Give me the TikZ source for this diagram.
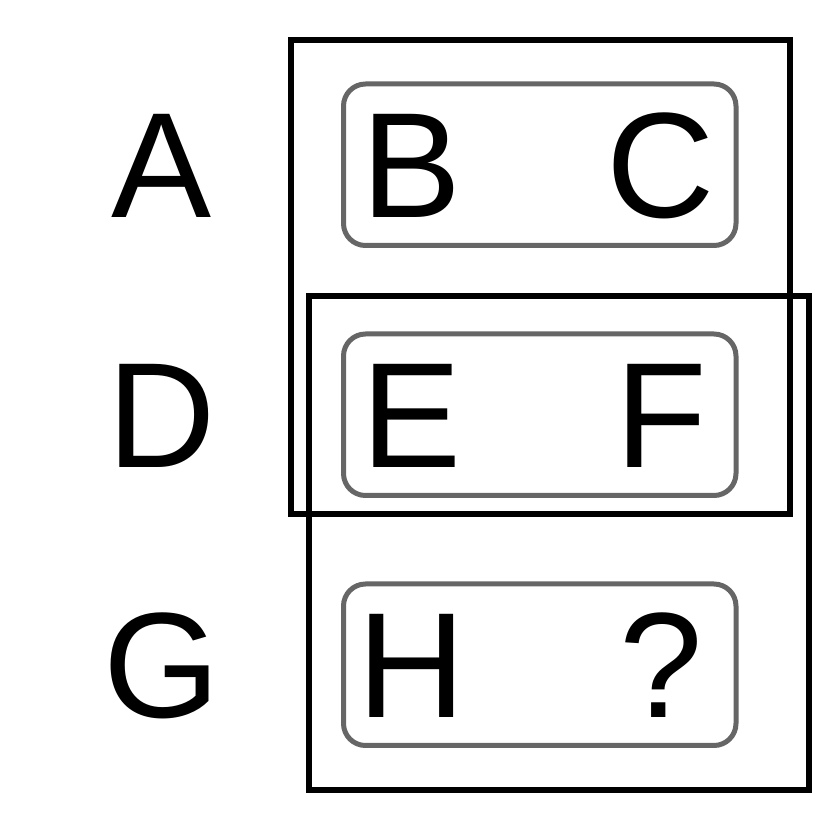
\documentclass[tikz,border=0pt]{standalone}
\usepackage{fontspec}
\setmainfont{Liberation Sans}
\begin{document}
\begin{tikzpicture}[x=1pt,y=1pt,
  letter/.style={anchor=base,inner sep=0pt,font=\fontsize{150}{150}\selectfont},
  pairbox/.style={draw=black!60,line width=5pt,rounded corners=22pt},
  groupbox/.style={draw=black,line width=6pt}]
\useasboundingbox (0,0) rectangle (831,839);
% gray rounded boxes
\draw[pairbox] (343.5,755) rectangle (736,593.5);
\draw[pairbox] (343.5,505) rectangle (736,343.5);
\draw[pairbox] (343.5,255) rectangle (736,93.5);
% black group rectangles
\draw[groupbox] (290.5,799) rectangle (790,324.5);
\draw[groupbox] (309,543) rectangle (808.5,49);
% letters
\node[letter] (A) at (162,621) {A};
\node[letter] (B) at (411.5,621) {B};
\node[letter] (C) at (661,621) {C};
\node[letter] (D) at (162,371) {D};
\node[letter] (E) at (411.5,371) {E};
\node[letter] (F) at (661,371) {F};
\node[letter] (G) at (162,121) {G};
\node[letter] (H) at (411.5,121) {H};
\node[letter] (Q) at (661,121) {?};
\end{tikzpicture}
\end{document}
